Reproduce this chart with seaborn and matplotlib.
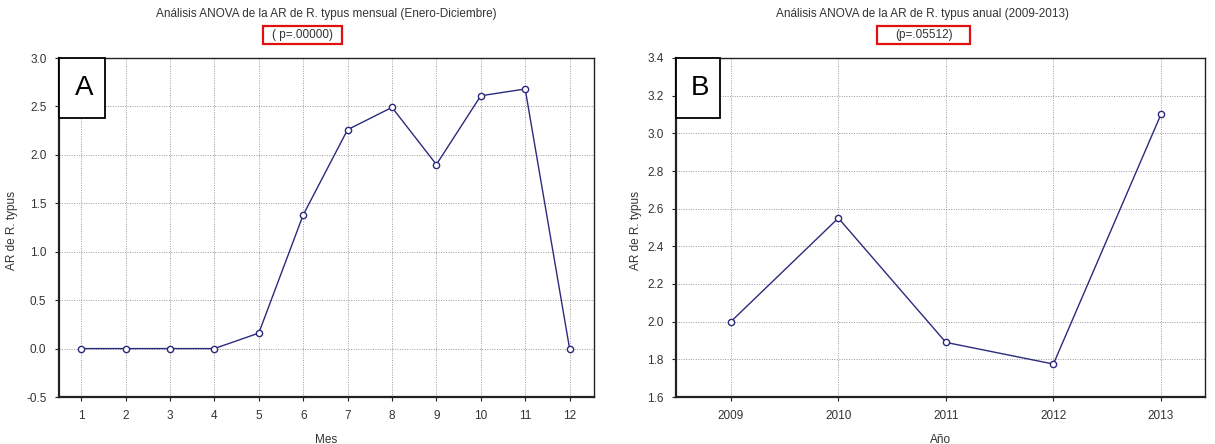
import matplotlib
matplotlib.use("Agg")
import matplotlib.pyplot as plt
import seaborn as sns
import pandas as pd
from matplotlib.patches import Rectangle

# Data
meses = [1, 2, 3, 4, 5, 6, 7, 8, 9, 10, 11, 12]
ar_mensual = [0.0, 0.0, 0.0, 0.0, 0.16, 1.38, 2.26, 2.49, 1.90, 2.61, 2.68, 0.0]
anios = [2009, 2010, 2011, 2012, 2013]
ar_anual = [2.0, 2.55, 1.89, 1.775, 3.10]

title_a = "Análisis ANOVA de la AR de R. typus mensual (Enero-Diciembre)"
p_a = "( p=.00000)"
title_b = "Análisis ANOVA de la AR de R. typus anual (2009-2013)"
p_b = "(p=.05512)"

sns.set_theme(style="white")
plt.rcParams['font.family'] = ['Liberation Sans', 'DejaVu Sans']

W, H = 1215, 444
fig = plt.figure(figsize=(W/100, H/100), dpi=100)
axA = fig.add_axes([59/W, 1-397/H, 535/W, 339/H])
axB = fig.add_axes([676/W, 1-397/H, 529/W, 339/H])

line_color = "#2b2b7e"
grid_kw = dict(color="#9a9a9a", linestyle=(0, (1, 1.5)), linewidth=0.7)

dfA = pd.DataFrame({"Mes": meses, "AR": ar_mensual})
dfB = pd.DataFrame({"Año": anios, "AR": ar_anual})

sns.lineplot(data=dfA, x="Mes", y="AR", ax=axA, color=line_color, linewidth=1.0,
             marker="o", markersize=4.5, markerfacecolor="white",
             markeredgecolor=line_color, markeredgewidth=1.0)
sns.lineplot(data=dfB, x="Año", y="AR", ax=axB, color=line_color, linewidth=1.0,
             marker="o", markersize=4.5, markerfacecolor="white",
             markeredgecolor=line_color, markeredgewidth=1.0)

axA.set_xlim(0.5, 12.55)
axA.set_ylim(-0.5, 3.0)
axA.set_xticks(meses)
axA.set_yticks([-0.5, 0.0, 0.5, 1.0, 1.5, 2.0, 2.5, 3.0])
axA.set_yticklabels(["-0.5", "0.0", "0.5", "1.0", "1.5", "2.0", "2.5", "3.0"])

axB.set_xlim(2008.49, 2013.41)
axB.set_ylim(1.6, 3.4)
axB.set_xticks(anios)
axB.set_yticks([1.6, 1.8, 2.0, 2.2, 2.4, 2.6, 2.8, 3.0, 3.2, 3.4])
axB.set_yticklabels(["1.6", "1.8", "2.0", "2.2", "2.4", "2.6", "2.8", "3.0", "3.2", "3.4"])

for ax, xl, ylx in [(axA, "Mes", (18-59)/535), (axB, "Año", (642-676)/529)]:
    ax.grid(True, **grid_kw)
    ax.set_axisbelow(True)
    ax.set_xlabel(xl, fontsize=8.5, color="#333333", labelpad=9)
    ax.set_ylabel("AR de R. typus", fontsize=8.5, color="#333333")
    ax.yaxis.set_label_coords(ylx, 0.49)
    ax.tick_params(axis="both", labelsize=8.5, labelcolor="#333333", direction="out",
                   length=3, width=0.8, color="#222222", bottom=True, left=True, pad=6)
    for s in ax.spines.values():
        s.set_visible(True)
        s.set_color("#222222")
        s.set_linewidth(1.0)
    ax.spines["left"].set_linewidth(1.6)
    ax.spines["bottom"].set_linewidth(1.6)

# Titles
fig.text(326/W, 1-14/H, title_a, ha="center", va="center", fontsize=8.5, color="#333333")
fig.text(303/W, 1-35/H, p_a, ha="center", va="center", fontsize=8.5, color="#333333")
fig.text(922/W, 1-14/H, title_b, ha="center", va="center", fontsize=8.5, color="#333333")
fig.text(924/W, 1-35/H, p_b, ha="center", va="center", fontsize=8.5, color="#333333")
for x0, x1 in [(263, 342), (877, 970)]:
    fig.add_artist(Rectangle((x0/W, 1-44/H), (x1-x0)/W, 18/H, transform=fig.transFigure,
                             facecolor="none", edgecolor="#e01010", linewidth=1.6))

# Panel labels
for ax, lab, w in [(axA, "A", 46/535), (axB, "B", 44/529)]:
    ax.add_patch(Rectangle((0, 1 - 60/339), w, 60/339, transform=ax.transAxes,
                           facecolor="white", edgecolor="black", linewidth=1.3, zorder=5, clip_on=False))
    ax.text(w/2 + 0.004, 1 - 30/339, lab, transform=ax.transAxes, ha="center", va="center",
            fontsize=20, color="black", zorder=6)

fig.savefig("out.png", dpi=100, facecolor="white")
